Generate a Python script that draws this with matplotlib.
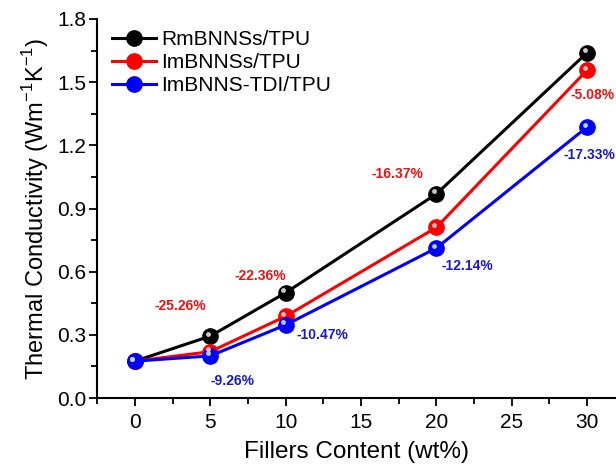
import matplotlib
matplotlib.use("Agg")
import matplotlib.pyplot as plt
import matplotlib.transforms as mtrans
from matplotlib.ticker import MultipleLocator, FormatStrFormatter

plt.rcParams['font.family'] = ['Liberation Sans', 'DejaVu Sans']
plt.rcParams['mathtext.fontset'] = 'custom'
plt.rcParams['mathtext.rm'] = 'Liberation Sans'

x = [0, 5, 10, 20, 30]
rm = [0.175, 0.294, 0.50, 0.969, 1.64]
im = [0.175, 0.22, 0.388, 0.81, 1.557]
tdi = [0.175, 0.20, 0.347, 0.712, 1.287]

red_labels = ["-25.26%", "-22.36%", "-16.37%", "-5.08%"]
red_pos = [(2.99, 0.437, 'center'), (8.29, 0.579, 'center'), (17.39, 1.064, 'center'), (31.85, 1.439, 'right')]
blue_labels = ["-9.26%", "-10.47%", "-12.14%", "-17.33%"]
blue_pos = [(6.50, 0.081, 'center'), (12.41, 0.299, 'center'), (22.03, 0.627, 'center'), (31.85, 1.154, 'right')]

fig = plt.figure(figsize=(6.16, 4.72), dpi=100)
ax = fig.add_axes([97/616, 1 - 398/472, 519/616, 379/472])

series = [(rm, 'black', '#c8c8c8', 'RmBNNSs/TPU'),
          (im, '#ff0000', '#ffc0c0', 'ImBNNSs/TPU'),
          (tdi, '#0000ff', '#b0d0ff', 'ImBNNS-TDI/TPU')]
off = mtrans.ScaledTranslation(-1.8/72, 1.8/72, fig.dpi_scale_trans)
for ys, c, hl, lab in series:
    ax.plot(x, ys, color=c, lw=2.2, marker='o', ms=11, mfc=c, mec=c, label=lab, zorder=3)
    ax.plot(x, ys, ls='none', marker='o', ms=3.5, mfc=hl, mec='none',
            transform=ax.transData + off, zorder=4)

for t, (px, py, ha) in zip(red_labels, red_pos):
    ax.text(px, py, t, color='#ee1111', fontsize=10, fontweight='bold', ha=ha, va='center', clip_on=False)
for t, (px, py, ha) in zip(blue_labels, blue_pos):
    ax.text(px, py, t, color='#1a1acc', fontsize=10, fontweight='bold', ha=ha, va='center', clip_on=False)

ax.set_xlim(-2.52, 31.92)
ax.set_ylim(0, 1.8)
ax.xaxis.set_major_locator(MultipleLocator(5))
ax.xaxis.set_minor_locator(MultipleLocator(2.5))
ax.yaxis.set_major_locator(MultipleLocator(0.3))
ax.yaxis.set_minor_locator(MultipleLocator(0.15))
ax.yaxis.set_major_formatter(FormatStrFormatter('%.1f'))
ax.tick_params(which='major', direction='out', length=6, width=1.3, labelsize=15)
ax.tick_params(axis='x', which='major', pad=5)
ax.tick_params(axis='y', which='major', pad=2)
ax.tick_params(which='minor', direction='out', length=4, width=1.3)
for s in ['top', 'right']:
    ax.spines[s].set_visible(False)
for s in ['left', 'bottom']:
    ax.spines[s].set_linewidth(1.5)

ax.set_xlabel('Fillers Content (wt%)', fontsize=17.5, labelpad=6)
ax.set_ylabel('Thermal Conductivity (Wm$^{\\mathregular{-1}}$K$^{\\mathregular{-1}}$)', fontsize=17, labelpad=4)

leg = ax.legend(loc='upper left', frameon=False, fontsize=15, handlelength=2.1,
                handletextpad=0.25, labelspacing=0.2, borderaxespad=0, borderpad=0,
                bbox_to_anchor=(112/616, 1 - 30/472), bbox_transform=fig.transFigure)

fig.savefig('out.png', dpi=100)
